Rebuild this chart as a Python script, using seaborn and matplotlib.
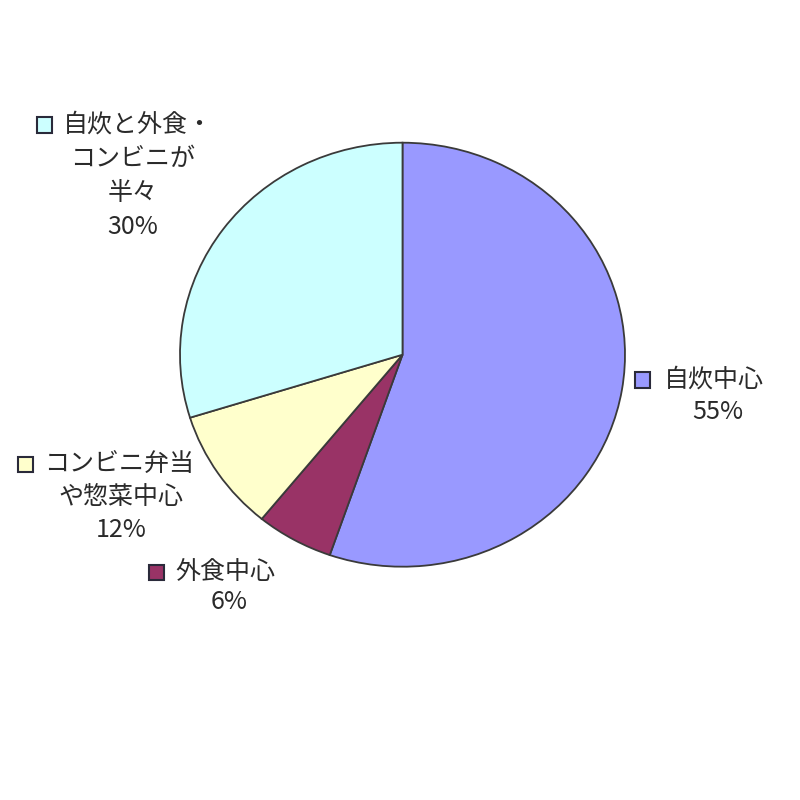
import matplotlib
matplotlib.use("Agg")
import matplotlib.pyplot as plt
import matplotlib.patches as mpatches
import seaborn as sns

# wedge shares as drawn, and the percentages printed in the labels
categories = ["自炊中心", "外食中心", "コンビニ弁当\nや惣菜中心", "自炊と外食・\nコンビニが\n半々"]
shares = [55.3, 5.6, 9.3, 29.8]
pct_labels = ["55%", "6%", "12%", "30%"]
colors = ["#9999FF", "#993366", "#FFFFCC", "#CCFFFF"]

sns.set_theme(style="white")
plt.rcParams['font.family'] = ['Noto Sans CJK JP', 'DejaVu Sans']

W = H = 800
fig = plt.figure(figsize=(8, 8), dpi=100)
fig.patch.set_facecolor("white")

# pie axes (slightly wider than tall, like the original)
cx, cy, rx, ry = 402.5, 354.7, 222.5, 212.0
ax = fig.add_axes([(cx - rx) / W, (H - cy - ry) / H, 2 * rx / W, 2 * ry / H])
ax.pie(shares, colors=colors, startangle=90, counterclock=False,
       wedgeprops=dict(edgecolor="#3a3a3a", linewidth=1.3))
ax.set_aspect("auto")
ax.set_xlim(-1, 1)
ax.set_ylim(-1, 1)
ax.axis("off")

# label layout in pixels: square centre x, first-line y, first-line text start x,
# centre x of the following lines, line step
label_pos = [
    (642, 380, 664, 718, 32),
    (156, 572, 175, 229, 30),
    (25, 464, 44, 121, 33),
    (44, 125, 63, 133, 34),
]

fs = 18
sq = 15
for name, pct, col, (sx, ty, tx0, tc, step) in zip(categories, pct_labels, colors, label_pos):
    lines = name.split("\n") + [pct]
    fig.text(tx0 / W, 1 - ty / H, lines[0], ha="left", va="center",
             fontsize=fs, color="#2a2a2a")
    for k, ln in enumerate(lines[1:], start=1):
        fig.text(tc / W, 1 - (ty + k * step) / H, ln, ha="center", va="center",
                 fontsize=fs, color="#2a2a2a")
    fig.add_artist(mpatches.Rectangle(((sx - sq / 2) / W, 1 - (ty + sq / 2) / H),
                                      sq / W, sq / H, transform=fig.transFigure,
                                      facecolor=col, edgecolor="#2a2a3a", linewidth=1.5))

plt.savefig("out.png", dpi=100, facecolor="white")
